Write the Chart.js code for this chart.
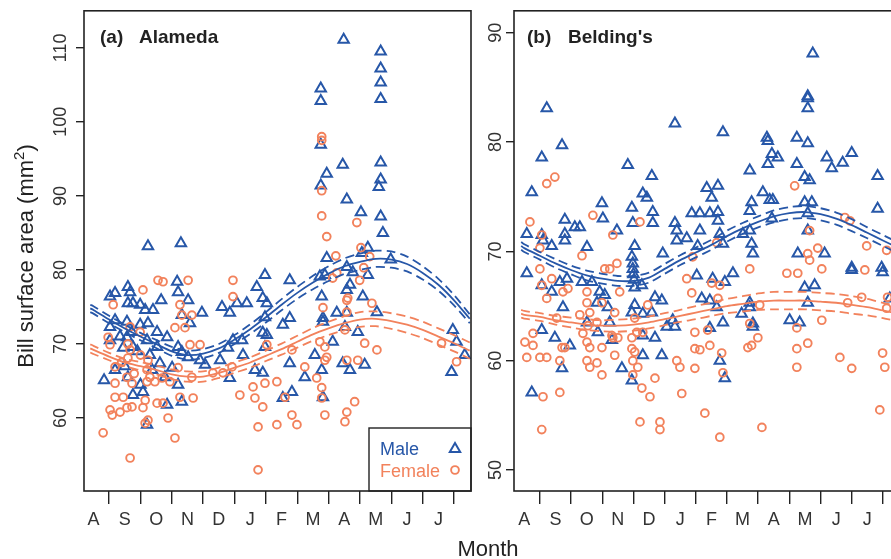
<!DOCTYPE html>
<html>
<head>
<meta charset="utf-8">
<title>Bill surface area by month</title>
<script src="https://cdn.jsdelivr.net/npm/chart.js@4"></script>
<style>
  html, body { margin: 0; padding: 0; background: #fff; overflow: hidden; }
  #wrap { position: relative; width: 891px; height: 559px; overflow: hidden; }
  #chartA { position: absolute; left: 0; top: 0; }
  #chartB { position: absolute; left: 480px; top: 0; }
</style>
</head>
<body>
<div id="wrap">
  <canvas id="chartA" width="600" height="559"></canvas>
  <canvas id="chartB" width="430" height="559"></canvas>
</div>
<script>
// axis labels / ticks (months run Aug .. Jul, x = months since 1 Sep)
const monthLabels = ['A','S','O','N','D','J','F','M','A','M','J','J'];
const monthCenters = [-0.5,0.5,1.5,2.5,3.5,4.5,5.5,6.5,7.5,8.5,9.5,10.5];
const monthBreaks = [0,1,2,3,4,5,6,7,8,9,10,11];
const yTicksA = [60,70,80,90,100,110];
const yTicksB = [50,60,70,80,90];

// fitted seasonal curves (value and half-width of the band)
const fitX = [-0.6,-0.5,0,0.5,1,1.5,2,2.5,3,3.5,4,4.5,5,5.5,6,6.5,7,7.5,8,8.5,9,9.5,10,10.5,11,11.5];
const maleFitA = [74.8,74.6,73.3,72.1,71.0,70.0,69.0,68.5,68.7,69.4,70.6,72.0,73.6,75.3,76.9,78.3,79.5,80.5,81.1,81.5,81.4,80.8,79.6,78.0,75.9,73.4];
const maleSeA = [0.5,0.5,0.5,0.5,0.5,0.55,0.6,0.6,0.6,0.6,0.6,0.65,0.7,0.75,0.8,0.9,1.0,1.05,1.1,1.1,1.1,1.0,0.9,0.8,0.7,0.6];
const femaleFitA = [69.4,69.2,68.3,67.5,67.0,66.5,65.9,65.6,65.6,66.1,66.8,67.5,68.4,69.3,70.3,71.3,72.1,72.8,73.3,73.4,73.1,72.6,71.9,71.0,70.1,69.1];
const femaleSeA = [0.55,0.55,0.5,0.5,0.55,0.6,0.65,0.7,0.7,0.7,0.7,0.7,0.7,0.75,0.8,0.85,0.9,0.95,1.0,1.0,1.05,1.1,1.1,1.1,1.1,1.1];
const maleFitB = [70.5,70.3,69.6,68.9,68.3,67.8,67.5,67.3,67.3,67.6,68.4,69.2,69.9,70.6,71.4,72.1,72.7,73.2,73.5,73.6,73.4,73.0,72.4,71.7,71.0,70.3];
const maleSeB = [0.35,0.35,0.35,0.4,0.4,0.45,0.45,0.45,0.45,0.45,0.45,0.45,0.45,0.45,0.5,0.5,0.5,0.55,0.55,0.55,0.55,0.55,0.55,0.5,0.5,0.5];
const femaleFitB = [64.3,64.2,64.0,63.7,63.5,63.3,63.2,63.2,63.3,63.5,63.8,64.1,64.4,64.7,65.0,65.2,65.4,65.5,65.5,65.5,65.4,65.3,65.1,64.9,64.6,64.3];
const femaleSeB = [0.35,0.35,0.35,0.4,0.45,0.5,0.5,0.55,0.55,0.55,0.55,0.55,0.6,0.6,0.65,0.7,0.75,0.8,0.8,0.8,0.8,0.8,0.8,0.75,0.7,0.7];

// individual birds: [month, bill surface area]
const maleA = [
  [7.48,111.1],[8.66,109.5],[8.66,107.2],[8.66,105.3],[8.66,103.1],[6.75,104.5],[6.75,102.8],[6.75,96.9],
  [6.94,93.0],[7.45,94.2],[6.75,91.4],[7.58,89.5],[8.03,87.8],[8.66,94.5],[8.66,92.2],[8.6,91.2],[8.66,87.2],
  [8.73,85.0],[8.25,83.0],[1.24,83.2],[2.29,83.6],[8.98,81.4],[6.94,81.6],[8.06,82.3],[7.58,80.4],
  [0.03,76.4],[0.19,76.9],[0.6,77.7],[0.67,77.0],[0.6,75.5],[0.76,75.5],[0.99,75.3],[1.15,74.6],[1.4,74.6],
  [0.03,72.3],[0.19,73.2],[0.57,73.0],[0.73,71.6],[0.99,72.6],[1.24,72.8],[1.53,71.6],[1.85,70.9],[0.03,70.5],
  [0.57,70.9],[0.76,69.6],[1.21,70.5],[1.53,69.6],[0.19,66.5],[0.6,65.5],[0.76,63.1],[1.08,63.5],[1.21,59.1],
  [1.37,66.5],[1.62,67.4],[1.78,65.5],[1.85,61.8],[1.66,75.9],[2.17,78.4],[2.2,77.0],[2.52,75.9],[2.32,73.9],
  [2.58,72.8],[2.96,74.2],[2.2,69.6],[2.52,68.2],[2.32,68.9],[2.01,66.8],[2.2,64.5],[2.32,62.2],[2.9,67.8],
  [3.06,67.2],[3.54,67.8],[3.6,75.0],[3.85,74.2],[4.08,75.5],[4.39,75.5],[3.85,65.4],[3.79,69.5],[3.95,70.5],
  [4.24,70.5],[4.27,68.5],[4.71,77.7],[4.97,79.3],[4.9,76.2],[5.03,75.5],[5.76,78.6],[4.97,73.6],[4.9,71.5],
  [5.03,71.2],[4.97,69.6],[4.65,66.5],[4.9,66.1],[5.54,72.6],[5.76,73.5],[5.76,67.4],[5.83,63.5],[5.54,62.7],
  [6.24,65.5],[6.78,76.4],[6.72,79.1],[6.88,79.3],[6.82,73.5],[6.82,73.0],[6.56,68.5],[6.78,66.5],[6.82,62.8],
  [7.13,70.3],[7.26,74.2],[7.58,77.3],[7.68,78.0],[7.45,67.4],[7.68,66.5],[7.77,79.7],[7.52,72.3],[7.58,74.2],
  [7.93,71.6],[8.15,67.2],[8.09,76.4],[8.25,79.3],[8.54,74.3],[10.96,71.9],[11.08,70.3],[11.34,68.5],[10.92,66.2],
  [-0.16,65.1],[0.35,71.0],[0.45,69.5],[0.9,69.0],[1.3,68.5],[0.5,67.0],[1.0,64.5]
];
const femaleA = [
  [-0.19,58.0],[-0.03,70.9],[0.03,69.9],[0.13,75.3],[0.19,66.9],[0.19,64.7],[0.03,61.1],[0.1,60.4],[0.35,60.8],
  [0.19,62.8],[0.45,62.8],[0.67,54.6],[0.57,61.4],[0.73,61.5],[0.6,68.1],[0.67,72.3],[0.67,69.2],[0.57,65.5],
  [0.73,64.7],[0.99,71.6],[1.08,77.3],[1.21,66.5],[1.24,67.8],[1.21,64.9],[1.15,62.4],[1.08,61.4],[1.15,59.3],
  [1.24,59.7],[1.53,62.0],[1.46,64.9],[1.56,78.6],[1.72,78.4],[1.69,65.4],[1.72,62.0],[1.88,60.0],[2.1,57.3],
  [1.94,64.9],[2.1,72.2],[2.26,75.3],[2.2,66.8],[2.26,62.8],[2.32,73.9],[2.42,72.2],[2.52,78.6],[2.58,69.9],
  [2.64,65.5],[2.68,62.7],[2.9,69.9],[2.64,73.9],[3.31,66.1],[3.63,66.1],[3.92,66.9],[3.95,78.6],[3.95,76.4],
  [4.17,63.1],[4.59,64.2],[4.65,62.7],[4.9,61.5],[4.75,58.8],[4.75,53.0],[4.97,64.7],[5.03,69.9],[5.35,64.9],
  [5.35,59.1],[5.61,62.8],[5.83,60.4],[5.83,69.2],[5.99,59.1],[6.24,66.9],[6.62,65.4],[6.78,64.1],[6.78,62.7],
  [6.88,60.4],[6.82,74.9],[6.72,70.3],[6.88,69.6],[6.94,68.2],[6.88,67.8],[7.13,78.9],[7.26,79.6],[7.52,71.9],
  [7.58,75.9],[7.61,76.2],[7.58,74.3],[7.58,67.8],[7.58,60.8],[7.52,59.5],[7.83,62.2],[7.93,67.8],[7.99,78.6],
  [8.15,70.1],[8.38,75.5],[8.54,69.2],[10.6,70.1],[11.08,67.6],
  [6.78,98.0],[6.78,97.5],[6.78,90.7],[6.78,87.3],[6.94,84.5],[7.9,86.4],[8.03,83.0],[8.12,80.3],[7.23,81.9],[8.31,81.8],
  [0.4,67.5],[0.8,66.0],[1.3,65.5],[1.0,68.5],[0.6,70.0]
];
const maleB = [
  [0.22,83.1],[0.06,78.6],[0.71,79.7],[-0.26,75.4],[-0.42,71.6],[0.06,71.5],[0.1,71.0],[0.38,70.5],[0.8,72.9],
  [0.8,71.6],[0.8,71.0],[1.12,72.2],[1.28,72.2],[1.51,70.4],[1.99,74.4],[2.02,73.0],[2.47,71.9],[2.82,77.9],
  [2.95,74.0],[2.98,72.6],[3.04,70.5],[2.95,69.5],[2.98,68.9],[3.3,75.3],[3.43,74.9],[3.59,76.9],[3.62,73.6],
  [3.62,72.6],[3.94,69.8],[4.33,81.7],[4.33,72.6],[4.39,71.9],[4.39,71.0],[4.71,71.2],[4.87,73.5],[5.13,73.5],
  [5.13,71.9],[5.06,70.5],[5.35,75.8],[5.51,74.9],[5.71,76.0],[5.45,73.5],[5.71,73.6],[5.71,72.8],[5.87,80.9],
  [5.77,71.6],[5.87,70.7],[6.51,71.6],[6.73,77.4],[6.79,74.5],[6.73,73.7],[6.73,71.9],[6.79,70.7],[6.83,69.8],
  [7.15,75.4],[7.28,80.4],[7.31,80.1],[7.31,78.0],[7.44,78.9],[7.63,78.6],[7.37,74.7],[7.47,74.7],[7.44,73.0],
  [8.24,80.4],[8.24,78.0],[8.49,76.8],[8.59,79.9],[8.65,76.5],[8.49,74.5],[8.72,74.5],[8.59,73.5],[8.59,71.9],
  [8.27,69.8],[8.75,88.1],[8.59,84.2],[8.59,84.0],[8.59,83.1],[9.2,78.6],[9.36,77.6],[9.71,78.1],[10.0,79.0],
  [9.13,69.8],[10.0,68.5],[10.83,76.9],[10.83,73.9],[10.96,68.5],
  [-0.42,68.0],[0.06,66.9],[0.38,66.3],[0.64,67.2],[0.87,67.5],[0.74,64.9],[0.06,62.8],[0.48,62.1],[0.96,61.4],
  [0.71,59.3],[-0.26,57.1],[1.35,67.2],[1.67,67.2],[1.92,66.3],[1.83,65.3],[2.08,66.0],[2.18,64.9],[1.51,63.5],
  [1.86,62.6],[2.24,63.5],[2.31,61.9],[2.63,59.3],[2.95,58.2],[2.95,64.4],[3.04,65.1],[3.3,64.3],[3.59,64.4],
  [3.3,62.3],[3.3,60.5],[3.69,62.1],[3.91,60.5],[3.69,65.8],[3.91,65.5],[3.04,66.7],[3.27,66.9],[4.26,63.7],
  [4.07,63.1],[4.33,63.1],[5.03,67.8],[5.19,65.7],[5.45,65.5],[5.45,63.0],[5.87,63.5],[5.77,60.0],[5.93,58.4],
  [5.67,64.9],[5.54,67.5],[5.93,67.2],[6.19,68.0],[6.47,64.3],[6.73,65.3],[6.73,64.9],[6.83,63.4],[6.83,63.1],
  [8.01,63.7],[8.33,63.5],[8.59,65.3],[8.49,66.7],[8.81,66.9],[10.0,68.3],[10.99,68.1],[11.22,65.7],
  [2.98,68.4],[3.0,67.9],[3.02,67.4]
];
const femaleB = [
  [-0.32,72.7],[0.22,76.2],[0.48,76.8],[0.06,71.5],[0.0,70.3],[0.0,68.4],[0.38,67.5],[1.35,69.6],[1.7,73.3],
  [2.34,71.5],[2.47,68.9],[2.08,68.4],[2.24,68.4],[3.21,72.7],[4.9,69.5],[5.67,70.8],[6.73,68.4],[8.17,76.0],
  [8.65,71.9],[8.59,69.8],[8.65,69.2],[8.91,70.3],[9.04,68.4],[7.92,68.0],[8.27,68.0],[9.78,73.1],[9.94,72.8],
  [10.48,70.5],[10.42,68.3],[11.12,70.1],
  [-0.42,60.3],[-0.48,61.7],[-0.22,61.4],[-0.22,62.5],[0.0,60.3],[0.22,60.3],[0.1,56.7],[0.06,53.7],[0.64,57.1],
  [0.64,60.0],[0.71,61.2],[0.8,61.2],[0.54,63.9],[0.22,65.7],[0.06,66.9],[0.74,66.3],[0.9,66.6],[1.28,64.2],
  [1.38,62.5],[1.6,61.2],[1.51,60.0],[1.6,59.4],[1.83,59.8],[1.51,61.7],[1.54,63.2],[1.83,63.5],[1.99,61.2],
  [1.99,58.7],[1.51,66.3],[1.51,65.3],[1.6,64.4],[1.99,65.3],[2.31,62.3],[2.34,62.1],[2.5,62.1],[2.4,60.5],
  [2.4,64.4],[2.56,66.3],[2.95,62.1],[2.95,61.1],[2.98,60.0],[3.04,60.8],[2.98,58.7],[3.14,59.4],[3.27,57.5],
  [3.21,54.4],[3.53,56.7],[3.69,58.4],[3.85,54.4],[3.85,53.7],[3.46,65.1],[3.3,62.6],[3.11,62.6],[3.04,63.9],
  [4.71,67.5],[4.87,66.2],[4.97,62.6],[4.97,61.1],[5.13,61.0],[4.39,60.0],[4.49,59.4],[4.97,59.3],[4.55,57.0],
  [5.29,55.2],[5.38,62.8],[5.45,61.4],[5.77,53.0],[5.83,60.7],[5.87,58.9],[5.71,65.7],[5.51,67.1],[5.77,66.9],
  [6.67,61.2],[6.79,61.4],[6.99,62.1],[7.12,53.9],[6.73,63.4],[7.05,65.1],[8.24,63.0],[8.24,61.1],[8.24,59.4],
  [8.59,61.6],[9.04,63.7],[9.62,60.3],[10.0,59.3],[9.87,65.3],[10.32,65.8],[10.99,60.7],[11.06,59.4],[10.9,55.5],
  [11.12,64.8],[11.15,65.8]
];

const BLUE = '#2757a8';
const ORANGE = '#f2825c';
const INK = '#222';
const FONT = '"Liberation Sans", Arial, Helvetica, sans-serif';

function triangle(ctx, x, y, r) {
  ctx.beginPath();
  ctx.moveTo(x, y - r);
  ctx.lineTo(x + r * 0.866, y + r * 0.5);
  ctx.lineTo(x - r * 0.866, y + r * 0.5);
  ctx.closePath();
  ctx.stroke();
}

function decor(tag, name, tagDx, nameDx, extra) {
  return {
    id: 'decor',
    afterDraw(chart) {
      const ctx = chart.ctx, a = chart.chartArea;
      ctx.save();
      ctx.strokeStyle = INK;
      ctx.lineWidth = 1.6;
      ctx.strokeRect(a.left, a.top, a.right - a.left, a.bottom - a.top);
      ctx.fillStyle = INK;
      ctx.font = 'bold 19px ' + FONT;
      ctx.textBaseline = 'alphabetic';
      ctx.fillText(tag, a.left + tagDx, 43);
      ctx.fillText(name, a.left + nameDx, 43);
      if (extra) extra(ctx, a);
      ctx.restore();
    }
  };
}

function legendAndTitles(ctx, a) {
  // legend box in the lower right corner
  const bx = a.right - 102, by = a.bottom - 63;
  ctx.strokeStyle = INK;
  ctx.lineWidth = 1.4;
  ctx.strokeRect(bx, by, 102, 63);
  ctx.font = '18px ' + FONT;
  ctx.fillStyle = BLUE;
  ctx.fillText('Male', bx + 11, by + 27);
  ctx.fillStyle = ORANGE;
  ctx.fillText('Female', bx + 11, by + 49);
  ctx.lineWidth = 2;
  ctx.strokeStyle = BLUE;
  triangle(ctx, bx + 86, by + 21, 6);
  ctx.strokeStyle = ORANGE;
  ctx.lineWidth = 1.9;
  ctx.beginPath();
  ctx.arc(bx + 86, by + 42, 3.9, 0, Math.PI * 2);
  ctx.stroke();

  // shared axis titles
  ctx.fillStyle = INK;
  ctx.font = '22px ' + FONT;
  ctx.textAlign = 'center';
  ctx.fillText('Month', 488, 556);
  ctx.textAlign = 'left';
  ctx.save();
  ctx.translate(33, 256);
  ctx.rotate(-Math.PI / 2);
  const t1 = 'Bill surface area (mm', t2 = '2', t3 = ')';
  ctx.font = '22px ' + FONT;
  const w1 = ctx.measureText(t1).width, w3 = ctx.measureText(t3).width;
  ctx.font = '15px ' + FONT;
  const w2 = ctx.measureText(t2).width;
  let x0 = -(w1 + w2 + w3) / 2;
  ctx.font = '22px ' + FONT;
  ctx.fillText(t1, x0, 0);
  ctx.font = '15px ' + FONT;
  ctx.fillText(t2, x0 + w1, -9);
  ctx.font = '22px ' + FONT;
  ctx.fillText(t3, x0 + w1 + w2, 0);
  ctx.restore();
}

function makeChart(id, p) {
  const pts = arr => arr.map(d => ({x: d[0], y: d[1]}));
  const curve = (fit, se, k) => fitX.map((x, i) => ({x: x, y: fit[i] + k * se[i]}));
  const line = (fit, se, k, color) => ({
    type: 'line', data: curve(fit, se, k), borderColor: color, borderWidth: 1.8,
    borderDash: k === 0 ? [] : [9, 5], pointRadius: 0, tension: 0.3, fill: false, order: 0
  });
  new Chart(document.getElementById(id), {
    type: 'scatter',
    data: {
      datasets: [
        {data: pts(p.male), pointStyle: 'triangle', pointRadius: 6, pointBorderWidth: 2,
         pointBorderColor: BLUE, pointBackgroundColor: 'rgba(0,0,0,0)', order: 2},
        {data: pts(p.female), pointStyle: 'circle', pointRadius: 3.9, pointBorderWidth: 1.9,
         pointBorderColor: ORANGE, pointBackgroundColor: 'rgba(0,0,0,0)', order: 1},
        line(p.femaleFit, p.femaleSe, 0, ORANGE),
        line(p.femaleFit, p.femaleSe, 1, ORANGE),
        line(p.femaleFit, p.femaleSe, -1, ORANGE),
        line(p.maleFit, p.maleSe, 0, BLUE),
        line(p.maleFit, p.maleSe, 1, BLUE),
        line(p.maleFit, p.maleSe, -1, BLUE)
      ]
    },
    options: {
      responsive: false,
      animation: false,
      events: [],
      layout: {padding: {top: 10, right: p.padRight, left: 0, bottom: 0}},
      plugins: {legend: {display: false}, tooltip: {enabled: false}},
      scales: {
        x: {
          type: 'linear', position: 'bottom', weight: 0, min: p.xMin, max: p.xMax,
          afterBuildTicks: s => { s.ticks = monthBreaks.map(v => ({value: v})); },
          afterFit: s => { s.height = 13; },
          grid: {drawOnChartArea: false, drawTicks: true, tickLength: 13, color: INK, lineWidth: 1.4},
          border: {display: false},
          ticks: {display: false}
        },
        xm: {
          type: 'linear', position: 'bottom', weight: 1, min: p.xMin, max: p.xMax,
          afterBuildTicks: s => { s.ticks = monthCenters.map(v => ({value: v})); },
          afterFit: s => { s.height = 55; },
          grid: {display: false, drawTicks: false},
          border: {display: false},
          ticks: {font: {size: 18, family: FONT}, color: '#333', padding: 5, maxRotation: 0, autoSkip: false,
                  callback: (v, i) => monthLabels[i]}
        },
        y: {
          type: 'linear', position: 'left', min: p.yMin, max: p.yMax,
          afterBuildTicks: s => { s.ticks = p.yTicks.map(v => ({value: v})); },
          afterFit: s => { s.width = p.yWidth; },
          grid: {drawOnChartArea: false, drawTicks: true, tickLength: 8, color: INK, lineWidth: 1.4},
          border: {display: false},
          ticks: {font: {size: 18, family: FONT}, color: '#333', minRotation: 90, maxRotation: 90,
                  crossAlign: 'center', padding: 0}
        }
      }
    },
    plugins: [p.decor]
  });
}

makeChart('chartA', {
  male: maleA, female: femaleA,
  maleFit: maleFitA, maleSe: maleSeA, femaleFit: femaleFitA, femaleSe: femaleSeA,
  xMin: -0.8, xMax: 11.54, yMin: 50.14, yMax: 115, yTicks: yTicksA,
  yWidth: 84, padRight: 129,
  decor: decor('(a)', 'Alameda', 16, 55, legendAndTitles)
});

makeChart('chartB', {
  male: maleB, female: femaleB,
  maleFit: maleFitB, maleSe: maleSeB, femaleFit: femaleFitB, femaleSe: femaleSeB,
  xMin: -0.83, xMax: 11.58, yMin: 48.08, yMax: 92.01, yTicks: yTicksB,
  yWidth: 34, padRight: 9,
  decor: decor('(b)', "Belding's", 13, 54, null)
});
</script>
</body>
</html>
